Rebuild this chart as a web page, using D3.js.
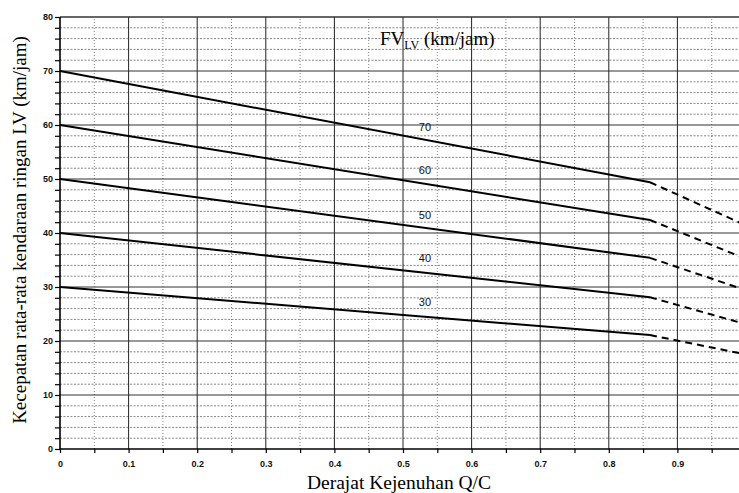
<!DOCTYPE html>
<html><head><meta charset="utf-8">
<script src="https://cdn.jsdelivr.net/npm/d3@7/dist/d3.min.js"></script>
<style>body{margin:0;background:#fff}svg{display:block}</style>
</head><body><svg id="c" width="739" height="493"></svg>
<script>
// Data
const fvValues = [70, 60, 50, 40, 30];                 // FV_LV (km/jam)
const qcSolid = [0, 0.86];                              // solid segment Q/C
const qcDashEnd = 1.0;                                  // dashed segment end Q/C
const speedAtZero = [70, 60, 50, 40, 30];
const speedAtSolidEnd = [49.4, 42.4, 35.4, 28.1, 21.1];
const speedAtDashEnd = [41.4, 35.2, 29.4, 23.1, 17.5];
const labelQC = 0.532;
const labelSpeed = [59.6, 51.7, 43.3, 35.4, 27.2];
const xTickLabels = ["0","0.1","0.2","0.3","0.4","0.5","0.6","0.7","0.8","0.9"];
const yTickLabels = ["0","10","20","30","40","50","60","70","80"];

const svg = d3.select("#c");
const x = d3.scaleLinear().domain([0, 1]).range([60, 746]);
const y = d3.scaleLinear().domain([0, 80]).range([449, 17]);

const g = svg.append("g");
// minor grids
const minorX = d3.range(0.05, 1.0001, 0.1);
const minorY = d3.range(2, 80, 2).filter(v => v % 10 !== 0);
g.selectAll(".mx").data(minorX).enter().append("line")
  .attr("x1", d => x(d)).attr("x2", d => x(d)).attr("y1", y(0)).attr("y2", y(80))
  .attr("stroke", "#666").attr("stroke-width", 0.8).attr("stroke-dasharray", "1,2");
g.selectAll(".my").data(minorY).enter().append("line")
  .attr("x1", x(0)).attr("x2", 739).attr("y1", d => y(d)).attr("y2", d => y(d))
  .attr("stroke", "#666").attr("stroke-width", 0.8).attr("stroke-dasharray", "2,1.5");
// major grids
const majorX = d3.range(0.1, 1.0001, 0.1);
g.selectAll(".Mx").data(majorX).enter().append("line")
  .attr("x1", d => x(d)).attr("x2", d => x(d)).attr("y1", y(0)).attr("y2", y(80))
  .attr("stroke", "#222").attr("stroke-width", 1);
g.selectAll(".My").data(d3.range(10, 81, 10)).enter().append("line")
  .attr("x1", x(0)).attr("x2", 739).attr("y1", d => y(d)).attr("y2", d => y(d))
  .attr("stroke", "#333").attr("stroke-width", d => d === 80 ? 1.5 : 1);

// axes
const xAxis = d3.axisBottom(x).tickValues(d3.range(0, 1.0001, 0.05)).tickSize(4)
  .tickFormat((d, i) => i % 2 === 0 ? xTickLabels[i / 2] || "" : "");
const xa = svg.append("g").attr("transform", `translate(0,${y(0)})`).call(xAxis);
xa.select(".domain").attr("stroke", "#000").attr("stroke-width", 1.6).attr("d", `M${x(0)},0H739`);
xa.selectAll("line").attr("stroke", "#000").attr("stroke-width", 1.2);
xa.selectAll("text").attr("font-family", "Liberation Sans, Arial, sans-serif")
  .attr("font-size", 9).attr("font-weight", "bold").attr("fill", "#111").attr("dy", "1.2em");

const yAxis = d3.axisLeft(y).tickValues(d3.range(0, 81, 2)).tickSize(5)
  .tickFormat((d, i) => d % 10 === 0 ? yTickLabels[d / 10] : "");
const ya = svg.append("g").attr("transform", `translate(${x(0)},0)`).call(yAxis);
ya.select(".domain").attr("stroke", "#000").attr("stroke-width", 1.6).attr("d", `M0,${y(0)}V${y(80)}`);
ya.selectAll("line").attr("stroke", "#000").attr("stroke-width", 1.2);
ya.selectAll("text").attr("font-family", "Liberation Sans, Arial, sans-serif")
  .attr("font-size", 9).attr("font-weight", "bold").attr("fill", "#111").attr("x", -7);

// curves
const line = d3.line().x(d => x(d[0])).y(d => y(d[1]));
fvValues.forEach((fv, i) => {
  svg.append("path").attr("d", line([[qcSolid[0], speedAtZero[i]], [qcSolid[1], speedAtSolidEnd[i]]]))
    .attr("fill", "none").attr("stroke", "#000").attr("stroke-width", 2);
  svg.append("path").attr("d", line([[qcSolid[1], speedAtSolidEnd[i]], [qcDashEnd, speedAtDashEnd[i]]]))
    .attr("fill", "none").attr("stroke", "#000").attr("stroke-width", 2).attr("stroke-dasharray", "7,5");
  svg.append("text").attr("x", x(labelQC)).attr("y", y(labelSpeed[i])).attr("dy", "0.35em")
    .attr("text-anchor", "middle").attr("font-family", "Liberation Sans, Arial, sans-serif")
    .attr("font-size", 11).attr("fill", "#111").text(fv);
});

// FV label
const fvt = svg.append("text").attr("x", 380).attr("y", 45)
  .attr("font-family", "Liberation Serif, Times New Roman, serif").attr("font-size", 19).attr("fill", "#000");
fvt.append("tspan").text("FV");
fvt.append("tspan").attr("font-size", 12).attr("dy", 4).text("LV");
fvt.append("tspan").attr("dy", -4).text(" (km/jam)");

// axis titles
svg.append("text").attr("x", 399).attr("y", 489).attr("text-anchor", "middle")
  .attr("font-family", "Liberation Serif, Times New Roman, serif").attr("font-size", 19.5).attr("fill", "#000")
  .text("Derajat Kejenuhan Q/C");
svg.append("text").attr("transform", "translate(26,230) rotate(-90)").attr("text-anchor", "middle")
  .attr("font-family", "Liberation Serif, Times New Roman, serif").attr("font-size", 19).attr("fill", "#000")
  .text("Kecepatan rata-rata kendaraan ringan LV (km/jam)");
</script></body></html>
